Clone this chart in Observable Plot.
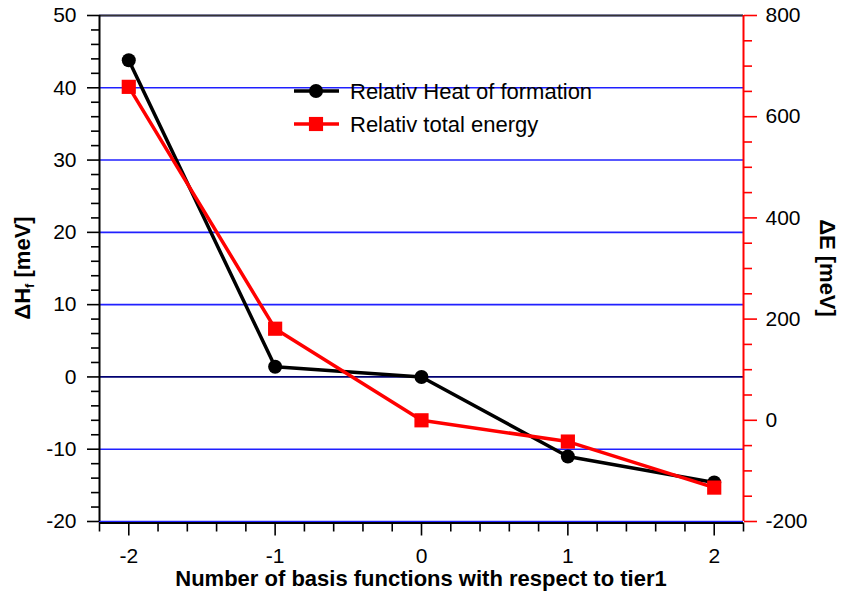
<!DOCTYPE html>
<html>
<head>
<meta charset="utf-8">
<script src="https://cdn.jsdelivr.net/npm/d3@7"></script>
<script src="https://cdn.jsdelivr.net/npm/@observablehq/plot@0.6"></script>
<style>
  html, body { margin: 0; padding: 0; background: #fff; }
  #chart { position: relative; width: 844px; height: 596px; }
</style>
</head>
<body>
<div id="chart"></div>
<script>
// ---- data ----
const basisOffsets = [-2, -1, 0, 1, 2];
const heatOfFormation = [43.8, 1.4, 0, -11.0, -14.6];      // meV, left axis
const totalEnergy = [659, 181, 0, -42, -133];              // meV, right axis
const seriesNames = ["Relativ Heat of formation", "Relativ total energy"];
const leftTicks = [-20, -10, 0, 10, 20, 30, 40, 50];
const rightTicks = [-200, 0, 200, 400, 600, 800];
const xTicks = [-2, -1, 0, 1, 2];
const xTitle = "Number of basis functions with respect to tier1";

// ---- scales helpers ----
const leftDomain = [-20, 50];
const rightDomain = [-200, 800];
const k = (leftDomain[1] - leftDomain[0]) / (rightDomain[1] - rightDomain[0]);
const toLeft = e => leftDomain[0] + (e - rightDomain[0]) * k;
const fromLeft = v => Math.round((v - leftDomain[0]) / k + rightDomain[0]);

const heatData = basisOffsets.map((x, i) => ({x, y: heatOfFormation[i]}));
const energyData = basisOffsets.map((x, i) => ({x, e: totalEnergy[i]}));

const leftMinor = d3.range(-20, 50.001, 2).filter(v => Math.abs(v % 10) > 1e-9);
const rightMinor = d3.range(-200, 800.001, 50).filter(v => Math.abs(v % 200) > 1e-9).map(toLeft);
const xMinor = d3.range(-2.2, 2.2001, 0.2).map(v => Math.round(v * 10) / 10).filter(v => !xTicks.includes(v));
const gridBlue = leftTicks.filter(v => v !== 0);

const FONT = "'Liberation Sans', Arial, Helvetica, sans-serif";

const plot = Plot.plot({
  width: 844,
  height: 596,
  marginLeft: 99,
  marginRight: 101,
  marginTop: 15,
  marginBottom: 75,
  style: {fontFamily: FONT, fontSize: "21px", color: "black", background: "white"},
  x: {domain: [-2.2, 2.2]},
  y: {domain: leftDomain},
  marks: [
    // gridlines
    Plot.ruleY(gridBlue, {stroke: "#2020ff", strokeWidth: 1.6}),
    Plot.ruleY([0], {stroke: "#000070", strokeWidth: 1.8}),
    // frame
    Plot.ruleY([50], {stroke: "#333", strokeWidth: 2.2}),
    Plot.ruleY([-20], {stroke: "black", strokeWidth: 2, dy: 1.5}),
    Plot.ruleX([-2.2], {stroke: "black", strokeWidth: 2}),
    // left axis
    Plot.axisY(leftTicks, {anchor: "left", tickSize: 12, tickPadding: 11, strokeWidth: 1.6, label: null, tickFormat: d => String(d)}),
    Plot.axisY(leftMinor, {anchor: "left", tickSize: 8, strokeWidth: 1.6, label: null, tickFormat: () => ""}),
    // bottom axis
    Plot.axisX(xTicks, {anchor: "bottom", tickSize: 13, tickPadding: 12, strokeWidth: 1.6, label: null, dy: 1.5, tickFormat: d => String(d)}),
    Plot.axisX(xMinor, {anchor: "bottom", tickSize: 9, strokeWidth: 1.6, label: null, dy: 1.5, tickFormat: () => ""}),
    // series 1
    Plot.line(heatData, {x: "x", y: "y", stroke: "black", strokeWidth: 3.5}),
    Plot.dot(heatData, {x: "x", y: "y", r: 7, fill: "black"}),
    // series 2 (right axis)
    Plot.line(energyData, {x: "x", y: d => toLeft(d.e), stroke: "red", strokeWidth: 3.5}),
    Plot.dot(energyData, {x: "x", y: d => toLeft(d.e), r: 8, symbol: "square", fill: "red"}),
    // right axis
    Plot.ruleX([2.2], {stroke: "red", strokeWidth: 2}),
    Plot.axisY(rightTicks.map(toLeft), {anchor: "right", tickSize: 13, tickPadding: 9, stroke: "red", strokeWidth: 1.6, fill: "black", label: null, tickFormat: v => String(fromLeft(v))}),
    Plot.axisY(rightMinor, {anchor: "right", tickSize: 8, stroke: "red", strokeWidth: 1.6, label: null, tickFormat: () => ""})
  ]
});

document.getElementById("chart").appendChild(plot);

// ---- titles and legend ----
const svg = d3.select(plot);

const lt = svg.append("text")
  .attr("transform", "translate(30,268) rotate(-90)")
  .attr("text-anchor", "middle")
  .attr("font-family", FONT).attr("font-size", "22px").attr("font-weight", "bold").attr("fill", "black");
lt.append("tspan").text("ΔH");
lt.append("tspan").text("f").attr("font-size", "13px").attr("dy", "4");
lt.append("tspan").text(" [meV]").attr("dy", "-4");

svg.append("text")
  .attr("transform", "translate(820,268) rotate(90)")
  .attr("text-anchor", "middle")
  .attr("font-family", FONT).attr("font-size", "22px").attr("font-weight", "bold").attr("fill", "black")
  .text("ΔE [meV]");

svg.append("text")
  .attr("x", 421).attr("y", 586)
  .attr("text-anchor", "middle")
  .attr("font-family", FONT).attr("font-size", "22px").attr("font-weight", "bold").attr("fill", "black")
  .text(xTitle);

// legend
const legend = svg.append("g");
const items = [
  {name: seriesNames[0], color: "black", symbol: d3.symbolCircle, y: 91},
  {name: seriesNames[1], color: "red", symbol: d3.symbolSquare, y: 124}
];
items.forEach(it => {
  legend.append("line").attr("x1", 294).attr("x2", 339).attr("y1", it.y).attr("y2", it.y)
    .attr("stroke", it.color).attr("stroke-width", 3.5);
  legend.append("path").attr("d", d3.symbol(it.symbol, it.symbol === d3.symbolCircle ? Math.PI * 49 : 200)())
    .attr("transform", `translate(316,${it.y})`).attr("fill", it.color);
  legend.append("text").attr("x", 350).attr("y", it.y + 8)
    .attr("text-anchor", "start")
    .attr("font-family", FONT).attr("font-size", "22px").attr("fill", "black").text(it.name);
});
</script>
</body>
</html>
